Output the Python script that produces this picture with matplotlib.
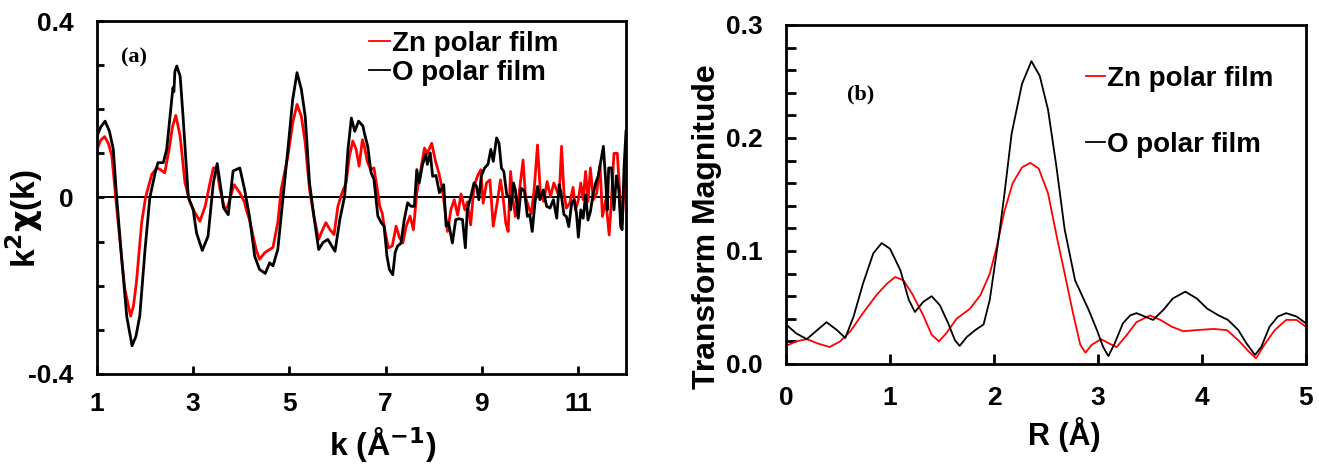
import numpy as np
import matplotlib
matplotlib.use("Agg")
import matplotlib.pyplot as plt
from matplotlib.lines import Line2D

plt.rcParams["font.family"] = ["Liberation Sans", "DejaVu Sans"]
plt.rcParams["font.weight"] = "bold"

# (a) k^2-weighted EXAFS oscillations
k_zn = [1.00, 1.08, 1.16, 1.24, 1.31, 1.39, 1.51, 1.58, 1.70, 1.76, 1.82, 1.93, 2.01,
        2.14, 2.24, 2.31, 2.41, 2.50, 2.57, 2.64, 2.73, 2.83, 2.93, 3.00, 3.14, 3.25,
        3.35, 3.42, 3.49, 3.56, 3.66, 3.72, 3.85, 3.97, 4.07, 4.10, 4.17, 4.31, 4.38,
        4.49, 4.59, 4.66, 4.76, 4.83, 4.97, 5.07, 5.16, 5.25, 5.33, 5.42, 5.51, 5.61,
        5.68, 5.76, 5.84, 5.93, 6.01, 6.09, 6.18, 6.25, 6.32, 6.39, 6.45, 6.52, 6.56,
        6.62, 6.69, 6.76, 6.83, 6.88, 6.93, 6.99, 7.06, 7.14, 7.22, 7.29, 7.36, 7.43,
        7.51, 7.58, 7.65, 7.72, 7.81, 7.87, 7.96, 8.04, 8.11, 8.17, 8.22, 8.29, 8.36,
        8.43, 8.50, 8.57, 8.65, 8.70, 8.77, 8.84, 8.91, 8.98, 9.03, 9.10, 9.17, 9.24,
        9.32, 9.39, 9.45, 9.50, 9.55, 9.60, 9.65, 9.70, 9.77, 9.86, 9.91, 9.98, 10.03,
        10.09, 10.16, 10.22, 10.29, 10.36, 10.43, 10.50, 10.61, 10.66, 10.71, 10.76,
        10.83, 10.90, 10.95, 11.01, 11.06, 11.11, 11.16, 11.21, 11.26, 11.32, 11.39,
        11.46, 11.51, 11.58, 11.65, 11.69, 11.75, 11.82, 11.87, 11.92, 11.97, 12.00]
chi_zn = [0.109, 0.130, 0.138, 0.122, 0.094, 0.000, -0.133, -0.208, -0.269, -0.245,
          -0.193, -0.057, 0.000, 0.052, 0.067, 0.064, 0.056, 0.109, 0.160, 0.186, 0.139,
          0.033, -0.008, -0.027, -0.054, -0.020, 0.033, 0.067, 0.067, 0.018, -0.027,
          -0.020, 0.029, 0.011, -0.011, -0.026, -0.050, -0.118, -0.140, -0.125, -0.118,
          -0.113, -0.057, 0.018, 0.094, 0.169, 0.211, 0.184, 0.124, 0.018, -0.042,
          -0.095, -0.076, -0.057, -0.072, -0.084, -0.020, 0.009, 0.033, 0.094, 0.128,
          0.109, 0.071, 0.131, 0.116, 0.082, 0.063, 0.067, 0.018, -0.020, -0.035, -0.077,
          -0.114, -0.110, -0.065, -0.091, -0.103, -0.065, -0.042, -0.073, 0.010, 0.055,
          0.112, 0.100, 0.123, 0.082, 0.055, 0.025, -0.013, -0.077, -0.027, -0.005,
          -0.040, 0.008, -0.028, -0.010, -0.062, 0.025, 0.048, 0.063, -0.013, 0.033,
          0.040, -0.065, -0.013, 0.040, -0.005, -0.058, -0.077, 0.059, -0.005, -0.043,
          0.002, 0.085, 0.002, -0.024, -0.036, 0.017, 0.119, 0.010, -0.009, 0.036, 0.002,
          0.033, 0.002, 0.116, 0.010, -0.024, -0.013, 0.023, -0.028, -0.005, 0.033,
          -0.005, 0.059, -0.009, 0.067, -0.005, 0.010, 0.074, -0.043, -0.005, -0.085,
          -0.020, 0.100, 0.100, 0.010, -0.058, 0.040, 0.036]

k_o = [1.00, 1.08, 1.17, 1.26, 1.34, 1.41, 1.51, 1.62, 1.73, 1.81, 1.89, 2.00, 2.10,
       2.21, 2.27, 2.38, 2.45, 2.52, 2.58, 2.60, 2.62, 2.66, 2.73, 2.79, 2.90, 3.00,
       3.07, 3.19, 3.31, 3.42, 3.50, 3.58, 3.63, 3.73, 3.83, 3.97, 4.07, 4.17, 4.28,
       4.38, 4.50, 4.59, 4.66, 4.76, 4.87, 4.97, 5.07, 5.16, 5.25, 5.33, 5.42, 5.51,
       5.61, 5.70, 5.80, 5.95, 6.05, 6.15, 6.22, 6.29, 6.36, 6.44, 6.53, 6.56, 6.63,
       6.70, 6.76, 6.84, 6.91, 6.97, 7.03, 7.08, 7.15, 7.20, 7.25, 7.32, 7.39, 7.46,
       7.53, 7.60, 7.65, 7.70, 7.77, 7.84, 7.87, 7.93, 7.98, 8.05, 8.12, 8.21, 8.26,
       8.31, 8.39, 8.46, 8.53, 8.60, 8.66, 8.70, 8.77, 8.84, 8.89, 8.94, 8.99, 9.06,
       9.13, 9.19, 9.24, 9.31, 9.36, 9.41, 9.46, 9.52, 9.57, 9.60, 9.66, 9.70, 9.76,
       9.82, 9.89, 9.95, 10.00, 10.05, 10.11, 10.16, 10.21, 10.28, 10.35, 10.42, 10.49,
       10.56, 10.61, 10.65, 10.71, 10.76, 10.81, 10.87, 10.92, 10.97, 11.01, 11.06,
       11.11, 11.16, 11.21, 11.26, 11.32, 11.37, 11.42, 11.47, 11.53, 11.58, 11.61,
       11.64, 11.70, 11.75, 11.80, 11.85, 11.89, 11.92, 11.96, 12.00]
chi_o = [0.139, 0.160, 0.173, 0.150, 0.109, 0.000, -0.133, -0.270, -0.336, -0.315,
         -0.269, -0.118, 0.000, 0.056, 0.079, 0.079, 0.109, 0.184, 0.249, 0.240, 0.285,
         0.298, 0.275, 0.184, 0.000, -0.027, -0.080, -0.120, -0.088, 0.033, 0.077, 0.018,
         -0.023, -0.039, 0.060, 0.067, 0.018, -0.042, -0.133, -0.163, -0.172, -0.148,
         -0.155, -0.118, 0.000, 0.109, 0.222, 0.283, 0.245, 0.184, 0.033, -0.042, -0.118,
         -0.102, -0.095, -0.122, -0.050, 0.003, 0.109, 0.180, 0.150, 0.173, 0.162, 0.146,
         0.116, 0.056, 0.041, -0.042, -0.057, -0.065, -0.133, -0.163, -0.175, -0.125,
         -0.110, -0.104, -0.050, -0.012, -0.020, -0.020, 0.063, 0.033, 0.075, 0.098,
         0.075, 0.101, 0.048, 0.050, 0.011, 0.029, -0.065, -0.057, -0.103, -0.050, -0.048,
         -0.050, -0.114, -0.027, 0.000, 0.033, 0.026, -0.005, 0.048, 0.067, 0.075, 0.109,
         0.082, 0.135, 0.123, 0.067, 0.059, 0.006, 0.002, -0.028, 0.033, 0.017, -0.047,
         0.021, 0.014, -0.043, -0.039, -0.077, -0.009, 0.025, -0.005, 0.017, -0.020,
         -0.024, -0.005, -0.047, 0.029, 0.010, -0.039, -0.043, -0.066, -0.013, -0.005,
         -0.036, -0.090, -0.028, -0.047, 0.006, -0.051, -0.032, 0.010, 0.033, 0.048,
         0.078, 0.116, 0.033, -0.028, 0.067, 0.067, -0.028, 0.049, 0.017, -0.066, -0.073,
         0.070, 0.150]

# (b) Fourier transform magnitude
r_zn = [0.00, 0.10, 0.20, 0.31, 0.42, 0.52, 0.62, 0.74, 0.87, 0.97, 1.05, 1.13, 1.22,
        1.32, 1.40, 1.47, 1.54, 1.64, 1.77, 1.87, 1.96, 2.03, 2.10, 2.18, 2.27, 2.35,
        2.43, 2.52, 2.61, 2.68, 2.76, 2.83, 2.88, 2.94, 3.03, 3.11, 3.18, 3.28, 3.37,
        3.50, 3.60, 3.71, 3.82, 3.95, 4.11, 4.24, 4.35, 4.45, 4.52, 4.60, 4.70, 4.81,
        4.91, 5.00]
ft_zn = [0.016, 0.020, 0.022, 0.018, 0.015, 0.020, 0.029, 0.045, 0.061, 0.071, 0.077,
         0.074, 0.061, 0.043, 0.026, 0.020, 0.027, 0.040, 0.049, 0.061, 0.080, 0.105,
         0.135, 0.160, 0.174, 0.178, 0.173, 0.151, 0.110, 0.080, 0.045, 0.017, 0.010,
         0.017, 0.022, 0.018, 0.015, 0.026, 0.037, 0.043, 0.039, 0.033, 0.029, 0.030,
         0.031, 0.030, 0.021, 0.011, 0.005, 0.017, 0.030, 0.039, 0.039, 0.033]

r_o = [0.00, 0.10, 0.20, 0.30, 0.39, 0.49, 0.57, 0.65, 0.74, 0.84, 0.92, 1.00, 1.10,
       1.18, 1.24, 1.32, 1.40, 1.48, 1.56, 1.625, 1.67, 1.74, 1.82, 1.90, 1.96, 2.04,
       2.10, 2.17, 2.27, 2.36, 2.44, 2.52, 2.60, 2.68, 2.78, 2.91, 2.99, 3.05, 3.10,
       3.16, 3.24, 3.31, 3.37, 3.45, 3.53, 3.63, 3.72, 3.84, 3.95, 4.05, 4.16, 4.25,
       4.35, 4.43, 4.51, 4.57, 4.65, 4.73, 4.81, 4.91, 5.00]
ft_o = [0.035, 0.027, 0.022, 0.030, 0.037, 0.030, 0.023, 0.042, 0.071, 0.098, 0.107,
        0.102, 0.083, 0.057, 0.046, 0.055, 0.060, 0.052, 0.036, 0.021, 0.016, 0.024,
        0.030, 0.035, 0.057, 0.108, 0.150, 0.204, 0.248, 0.268, 0.255, 0.225, 0.175,
        0.119, 0.074, 0.048, 0.030, 0.015, 0.007, 0.018, 0.036, 0.043, 0.045, 0.042,
        0.039, 0.048, 0.058, 0.064, 0.058, 0.049, 0.043, 0.039, 0.030, 0.018, 0.008,
        0.015, 0.033, 0.042, 0.045, 0.042, 0.036]

labels = ["Zn polar film", "O polar film"]
colors = ["#ff0000", "#000000"]


def frame(ax):
    for s in ax.spines.values():
        s.set_linewidth(2.0)
    ax.tick_params(axis="both", which="both", direction="in", labelsize=19, width=2)
    ax.tick_params(axis="x", which="major", length=6, pad=13)
    ax.tick_params(axis="y", which="major", length=5, pad=17)
    ax.tick_params(axis="y", which="minor", length=5)
    ax.tick_params(top=False, right=False)


def handles(lw):
    return [Line2D([0], [0], color=c, lw=lw) for c in colors]


fig = plt.figure(figsize=(13.19, 4.69), dpi=100)

# (a)
ax1 = fig.add_axes([0.0735, 0.2026, 0.4011, 0.7526])
ax1.axhline(0, color="black", lw=1.4, zorder=1)
ax1.plot(k_zn, chi_zn, color=colors[0], lw=2.0, zorder=2)
ax1.plot(k_o, chi_o, color=colors[1], lw=2.0, zorder=3)
ax1.set_xlim(1, 12)
ax1.set_ylim(-0.4, 0.4)
ax1.set_xticks([1, 3, 5, 7, 9, 11])
ax1.set_yticks([-0.4, 0, 0.4])
ax1.set_yticklabels(["-0.4", "0", "0.4"])
ax1.set_yticks(np.arange(-0.3, 0.31, 0.1), minor=True)
frame(ax1)
ax1.set_xlabel(r"k (Å$^{\mathbf{-1}}$)", fontsize=23, fontweight="bold")
ax1.set_ylabel(r"k$^{\mathbf{2}}$$\mathbf{\chi}$(k)", fontsize=24, fontweight="bold")
ax1.xaxis.set_label_coords(0.54, -0.145)
ax1.yaxis.set_label_coords(-0.098, 0.44)
ax1.text(0.045, 0.898, "(a)", transform=ax1.transAxes, fontsize=16,
         fontweight="bold", family="Liberation Serif", va="center")
ax1.legend(handles(1.3), labels, loc="upper left", bbox_to_anchor=(0.515, 0.972),
           frameon=False, fontsize=20, handlelength=0.75, handletextpad=0.05,
           labelspacing=0.1, borderpad=0, borderaxespad=0)

# (b)
ax2 = fig.add_axes([0.5959, 0.2239, 0.3942, 0.7228])
ax2.plot(r_zn, ft_zn, color=colors[0], lw=1.3)
ax2.plot(r_o, ft_o, color=colors[1], lw=1.3)
ax2.set_xlim(0, 5)
ax2.set_ylim(0, 0.3)
ax2.set_xticks(range(6))
ax2.set_yticks([0.0, 0.1, 0.2, 0.3])
ax2.set_yticklabels(["0.0", "0.1", "0.2", "0.3"])
ax2.set_yticks(np.arange(0.02, 0.3, 0.02), minor=True)
frame(ax2)
ax2.tick_params(axis="y", which="both", length=7)
ax2.tick_params(axis="x", which="major", length=7, pad=16)
ax2.set_xlabel("R (Å)", fontsize=22, fontweight="bold")
ax2.set_ylabel("Transform Magnitude", fontsize=23, fontweight="bold")
ax2.xaxis.set_label_coords(0.535, -0.155)
ax2.yaxis.set_label_coords(-0.123, 0.405)
ax2.text(0.117, 0.794, "(b)", transform=ax2.transAxes, fontsize=16,
         fontweight="bold", family="Liberation Serif", va="center")
ax2.legend(handles(1.3), labels, loc="upper left", bbox_to_anchor=(0.577, 0.88),
           frameon=False, fontsize=20, handlelength=0.7, handletextpad=0.05,
           labelspacing=1.45, borderpad=0, borderaxespad=0)

fig.savefig("out.png", dpi=100)
